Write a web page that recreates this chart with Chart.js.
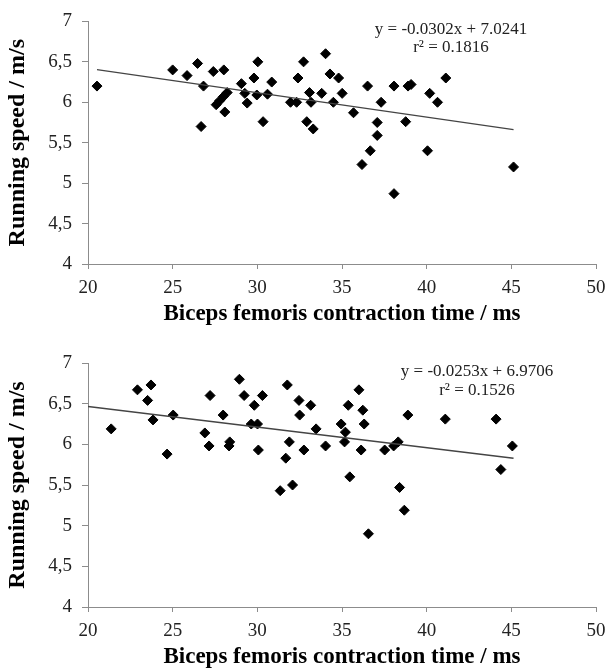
<!DOCTYPE html>
<html lang="en">
<head>
  <meta charset="UTF-8" />
  <title>Running speed vs biceps femoris contraction time</title>
  <script src="https://cdn.jsdelivr.net/npm/chart.js"></script>
  <style>
    body { margin: 0; background: #fff; }
    canvas { display: block; }
  </style>
</head>
<body>

  <!-- two stacked scatter plots -->
  <canvas id="topChart" width="606" height="335"></canvas>
  <canvas id="bottomChart" width="606" height="334"></canvas>

  <script>
    // ---- data ----
    const xTicks = [20, 25, 30, 35, 40, 45, 50];
    const yTicks = [4, 4.5, 5, 5.5, 6, 6.5, 7];

    // top panel
    const topX = [20.53, 25.0, 25.85, 26.47, 26.68, 26.82, 27.4, 28.02, 27.57, 27.78, 28.0, 28.22, 28.08,
      29.06, 29.26, 29.4, 29.8, 30.03, 29.97, 30.34, 30.6, 30.85, 31.96, 32.32, 32.4, 32.73, 32.92,
      33.08, 33.17, 33.3, 33.8, 34.03, 34.29, 34.49, 34.8, 35.01, 35.68, 36.18, 36.51, 36.67, 37.08,
      37.08, 37.31, 38.07, 38.07, 38.76, 38.9, 39.08, 40.05, 40.18, 40.64, 41.13, 45.13];
    const topY = [6.20, 6.40, 6.33, 6.48, 5.70, 6.20, 6.38, 6.40, 5.97, 6.02, 6.07, 6.12, 5.88,
      6.23, 6.11, 5.99, 6.30, 6.50, 6.09, 5.76, 6.10, 6.25, 6.0, 6.0, 6.30, 6.50, 5.76,
      6.12, 6.0, 5.67, 6.11, 6.60, 6.35, 6.0, 6.30, 6.11, 5.87, 5.23, 6.20, 5.40, 5.75,
      5.59, 6.0, 6.20, 4.87, 5.76, 6.20, 6.22, 5.40, 6.11, 6.0, 6.30, 5.20];
    const topTrendX = [20.53, 45.13];
    const topTrendY = [6.404, 5.661];
    const topEq = ["y = -0.0302x + 7.0241", "r² = 0.1816"];

    // bottom panel
    const bottomX = [21.37, 22.92, 23.52, 23.72, 23.84, 24.67, 25.03, 26.9, 27.15, 27.21, 27.98, 28.37,
      28.33, 28.94, 29.22, 29.82, 29.64, 30.01, 30.3, 30.06, 31.35, 31.68, 31.77, 31.89, 32.08, 32.46,
      32.5, 32.75, 33.15, 33.47, 34.03, 34.95, 35.2, 35.15, 35.37, 35.46, 36.0, 36.23, 36.31, 36.13,
      36.56, 37.52, 38.05, 38.32, 38.4, 38.68, 38.89, 41.1, 44.1, 44.38, 45.06];
    const bottomY = [6.19, 6.67, 6.54, 6.73, 6.30, 5.88, 6.36, 6.14, 5.98, 6.60, 6.36, 6.03,
      5.98, 6.80, 6.60, 6.48, 6.25, 6.25, 6.60, 5.93, 5.43, 5.83, 6.73, 6.03, 5.50, 6.54,
      6.36, 5.93, 6.48, 6.19, 5.98, 6.25, 6.15, 6.03, 6.48, 5.60, 6.67, 6.42, 6.25, 5.93,
      4.90, 5.93, 5.98, 6.03, 5.47, 5.19, 6.36, 6.31, 6.31, 5.69, 5.98];
    const bottomTrendX = [20, 45.13];
    const bottomTrendY = [6.465, 5.829];
    const bottomEq = ["y = -0.0253x + 6.9706", "r² = 0.1526"];

    const SERIF = "'Liberation Serif', 'Times New Roman', serif";
    const AXIS_GREY = "#8c8c8c";

    // draws the regression equation + r² in the upper right
    const eqPlugin = {
      id: "eqText",
      afterDatasetsDraw(chart, args, opts) {
        const ctx = chart.ctx;
        ctx.save();
        ctx.font = "17px " + SERIF;
        ctx.fillStyle = "#222";
        ctx.textAlign = "center";
        ctx.textBaseline = "middle";
        opts.lines.forEach((t, i) => ctx.fillText(t, opts.x, opts.y + i * 18.5));
        ctx.restore();
      }
    };

    function makeChart(id, xs, ys, trendX, trendY, eq, o) {
      new Chart(document.getElementById(id), {
        type: "scatter",
        data: {
          datasets: [
            {
              data: xs.map((x, i) => ({ x: x, y: ys[i] })),
              pointStyle: "rectRot",
              pointRadius: 5,
              pointBackgroundColor: "#000",
              pointBorderColor: "#000",
              pointBorderWidth: 1,
              order: 1
            },
            {
              type: "line",
              data: trendX.map((x, i) => ({ x: x, y: trendY[i] })),
              borderColor: "#444",
              borderWidth: 1.3,
              pointRadius: 0,
              fill: false,
              order: 0
            }
          ]
        },
        options: {
          responsive: false,
          animation: false,
          layout: { padding: { top: o.padTop, right: 10, left: 0, bottom: 0 } },
          plugins: {
            legend: { display: false },
            tooltip: { enabled: false },
            eqText: { lines: eq, x: o.eqX, y: o.eqY }
          },
          scales: {
            x: {
              type: "linear",
              min: xTicks[0],
              max: xTicks[xTicks.length - 1],
              afterBuildTicks: s => { s.ticks = xTicks.map(v => ({ value: v })); },
              ticks: { color: "#222", padding: 8, maxRotation: 0, font: { family: SERIF, size: 19 } },
              grid: { drawOnChartArea: false, tickLength: 5, color: AXIS_GREY },
              border: { color: AXIS_GREY },
              title: {
                display: true,
                text: "Biceps femoris contraction time / ms",
                color: "#000",
                font: { family: SERIF, size: 23, weight: "bold", lineHeight: 1 },
                padding: { top: 0, bottom: o.titlePadB }
              },
              afterFit: s => {
                s.height = o.xHeight;
                // let the "50" label hang into the right margin
                s.paddingRight = 10;
                s.paddingLeft = 0;
              }
            },
            y: {
              min: yTicks[0],
              max: yTicks[yTicks.length - 1],
              afterBuildTicks: s => { s.ticks = yTicks.map(v => ({ value: v })); },
              ticks: {
                color: "#222",
                padding: 10,
                font: { family: SERIF, size: 19 },
                callback: v => String(v).replace(".", ",")
              },
              grid: { drawOnChartArea: false, tickLength: 6, color: AXIS_GREY },
              border: { color: AXIS_GREY },
              title: {
                display: true,
                text: "Running speed / m/s",
                color: "#000",
                font: { family: SERIF, size: 24, weight: "bold", lineHeight: 1 },
                padding: { top: 6, bottom: 0 }
              },
              afterFit: s => { s.width = 88; }
            }
          }
        },
        plugins: [eqPlugin]
      });
    }

    makeChart("topChart", topX, topY, topTrendX, topTrendY, topEq,
      { padTop: 16, xHeight: 71, titlePadB: 9, eqX: 451, eqY: 29.5 });
    makeChart("bottomChart", bottomX, bottomY, bottomTrendX, bottomTrendY, bottomEq,
      { padTop: 28, xHeight: 62, titlePadB: 0, eqX: 477, eqY: 37 });
  </script>
</body>
</html>
